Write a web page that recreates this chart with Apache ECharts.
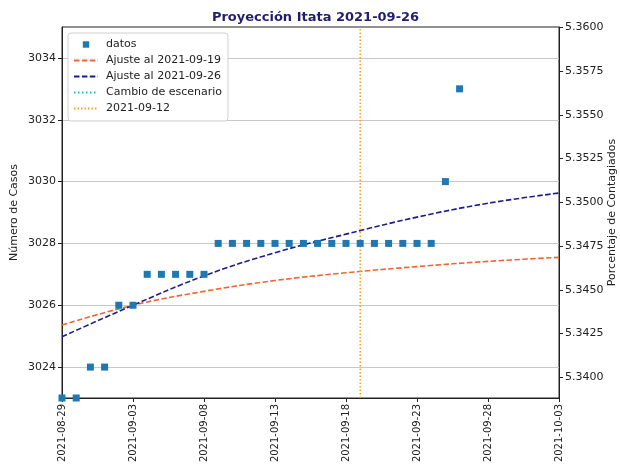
<!DOCTYPE html>
<html><head><meta charset="utf-8">
<script src="https://cdn.jsdelivr.net/npm/echarts@6/dist/echarts.min.js"></script>
<style>html,body{margin:0;padding:0;background:#fff}#c{width:620px;height:466px}</style>
</head><body><div id="c"></div>
<script>
const startDate = '2021-08-29';
const endDate = '2021-10-03';
const tickDates = ['2021-08-29','2021-09-03','2021-09-08','2021-09-13','2021-09-18','2021-09-23','2021-09-28','2021-10-03'];
const dataDates = ['2021-08-29','2021-08-30','2021-08-31','2021-09-01','2021-09-02','2021-09-03','2021-09-04','2021-09-05','2021-09-06','2021-09-07','2021-09-08','2021-09-09','2021-09-10','2021-09-11','2021-09-12','2021-09-13','2021-09-14','2021-09-15','2021-09-16','2021-09-17','2021-09-18','2021-09-19','2021-09-20','2021-09-21','2021-09-22','2021-09-23','2021-09-24','2021-09-25','2021-09-26'];
const dataCases = [3023,3023,3024,3024,3026,3026,3027,3027,3027,3027,3027,3028,3028,3028,3028,3028,3028,3028,3028,3028,3028,3028,3028,3028,3028,3028,3028,3030,3033];
const fitDates = ['2021-08-29','2021-09-03','2021-09-08','2021-09-13','2021-09-18','2021-09-23','2021-09-28','2021-10-03'];
const fit0919 = [3025.36,3026.0,3026.45,3026.8,3027.05,3027.25,3027.42,3027.55];
const fit0926 = [3024.98,3026.0,3026.95,3027.7,3028.3,3028.85,3029.3,3029.63];
const markerDate = '2021-09-19';
const casesMin = 3023, casesMax = 3035;
const casesTicks = [3024,3026,3028,3030,3032,3034];
const population = 56623;
const pctTicks = [5.34,5.3425,5.345,5.3475,5.35,5.3525,5.355,5.3575,5.36];

const DAY = 86400000;
const d = s => (Date.parse(s) - Date.parse(startDate)) / DAY;
const tickDays = tickDates.map(d);
const font = 'DejaVu Sans';
const hideSym = {opacity: 0};

const chart = echarts.init(document.getElementById('c'));
chart.setOption({
  animation: false,
  backgroundColor: '#fff',
  title: {text: 'Proyección Itata 2021-09-26', left: 310.5, textAlign: 'center', top: 6,
    textStyle: {fontFamily: font, fontSize: 13, fontWeight: 'bold', color: '#1f1f6e'}},
  grid: {left: 62, right: 61, top: 27, bottom: 68, outerBoundsMode: 'none', containLabel: false,
    show: true, borderColor: '#222', borderWidth: 1, backgroundColor: 'transparent'},
  legend: {
    orient: 'vertical', left: 68, top: 33, padding: [6, 6, 7, 5],
    backgroundColor: 'rgba(255,255,255,0.85)', borderColor: '#d0d0d0', borderWidth: 1, borderRadius: 3,
    itemWidth: 24, itemHeight: 8, itemGap: 5,
    textStyle: {fontFamily: font, fontSize: 11, color: '#222', padding: [0,0,0,3]},
    data: [
      {name: 'datos'},
      {name: 'Ajuste al 2021-09-19', itemStyle: hideSym},
      {name: 'Ajuste al 2021-09-26', itemStyle: hideSym},
      {name: 'Cambio de escenario', itemStyle: hideSym},
      {name: '2021-09-12', itemStyle: hideSym}
    ]
  },
  xAxis: {
    type: 'value', min: d(startDate), max: d(endDate), interval: 5,
    axisLine: {show: true, lineStyle: {color: '#222'}},
    axisTick: {show: true, length: 4, lineStyle: {color: '#222'}},
    splitLine: {show: false},
    axisLabel: {rotate: 90, fontFamily: font, fontSize: 10, color: '#222', margin: 6,
      formatter: v => { const i = tickDays.indexOf(v); return i >= 0 ? tickDates[i] : ''; }}
  },
  yAxis: [
    {type: 'value', min: casesMin, max: casesMax, position: 'left',
      name: 'Número de Casos', nameLocation: 'middle', nameGap: 42, nameMoveOverlap: false,
      nameTextStyle: {fontFamily: font, fontSize: 11, color: '#222'},
      axisLine: {show: true, lineStyle: {color: '#222'}},
      axisTick: {show: true, length: 4, customValues: casesTicks, lineStyle: {color: '#222'}},
      axisLabel: {fontFamily: font, fontSize: 11, color: '#222', customValues: casesTicks, margin: 6,
        formatter: v => String(v)},
      splitLine: {show: true, lineStyle: {color: '#c8c8c8', width: 1}}
    },
    {type: 'value', min: casesMin / population * 100, max: casesMax / population * 100, position: 'right',
      name: 'Porcentaje de Contagiados', nameLocation: 'middle', nameGap: 48, nameRotate: 90, nameMoveOverlap: false,
      nameTextStyle: {fontFamily: font, fontSize: 11, color: '#222'},
      axisLine: {show: true, lineStyle: {color: '#222'}},
      axisTick: {show: true, length: 4, customValues: pctTicks, lineStyle: {color: '#222'}},
      axisLabel: {fontFamily: font, fontSize: 11, color: '#222', customValues: pctTicks, margin: 6,
        formatter: v => v.toFixed(4)},
      splitLine: {show: false}
    }
  ],
  series: [
    {name: 'datos', type: 'line', yAxisIndex: 0, symbol: 'rect', symbolSize: 7, showSymbol: true,
      itemStyle: {color: '#1f77b4'}, lineStyle: {width: 0, opacity: 0},
      data: dataDates.map((s, i) => [d(s), dataCases[i]]), z: 5},
    {name: 'Ajuste al 2021-09-19', type: 'line', yAxisIndex: 0, symbol: 'none', smooth: 0.4,
      itemStyle: {color: '#f26430'}, lineStyle: {color: '#f26430', width: 1.6, type: [5.5, 2.4]},
      data: fitDates.map((s, i) => [d(s), fit0919[i]])},
    {name: 'Ajuste al 2021-09-26', type: 'line', yAxisIndex: 0, symbol: 'none', smooth: 0.4,
      itemStyle: {color: '#1c1c8c'}, lineStyle: {color: '#1c1c8c', width: 1.6, type: [5.5, 2.4]},
      data: fitDates.map((s, i) => [d(s), fit0926[i]])},
    {name: 'Cambio de escenario', type: 'line', yAxisIndex: 0, symbol: 'none',
      itemStyle: {color: '#17becf'}, lineStyle: {color: '#17becf', width: 1.5, type: [1.5, 2.5]},
      data: []},
    {name: '2021-09-12', type: 'line', yAxisIndex: 0, symbol: 'none',
      itemStyle: {color: '#ffa020'}, lineStyle: {color: '#ffa020', width: 1.5, type: [1.5, 2]},
      data: [[d(markerDate), casesMin], [d(markerDate), casesMax]]}
  ]
});
</script></body></html>
